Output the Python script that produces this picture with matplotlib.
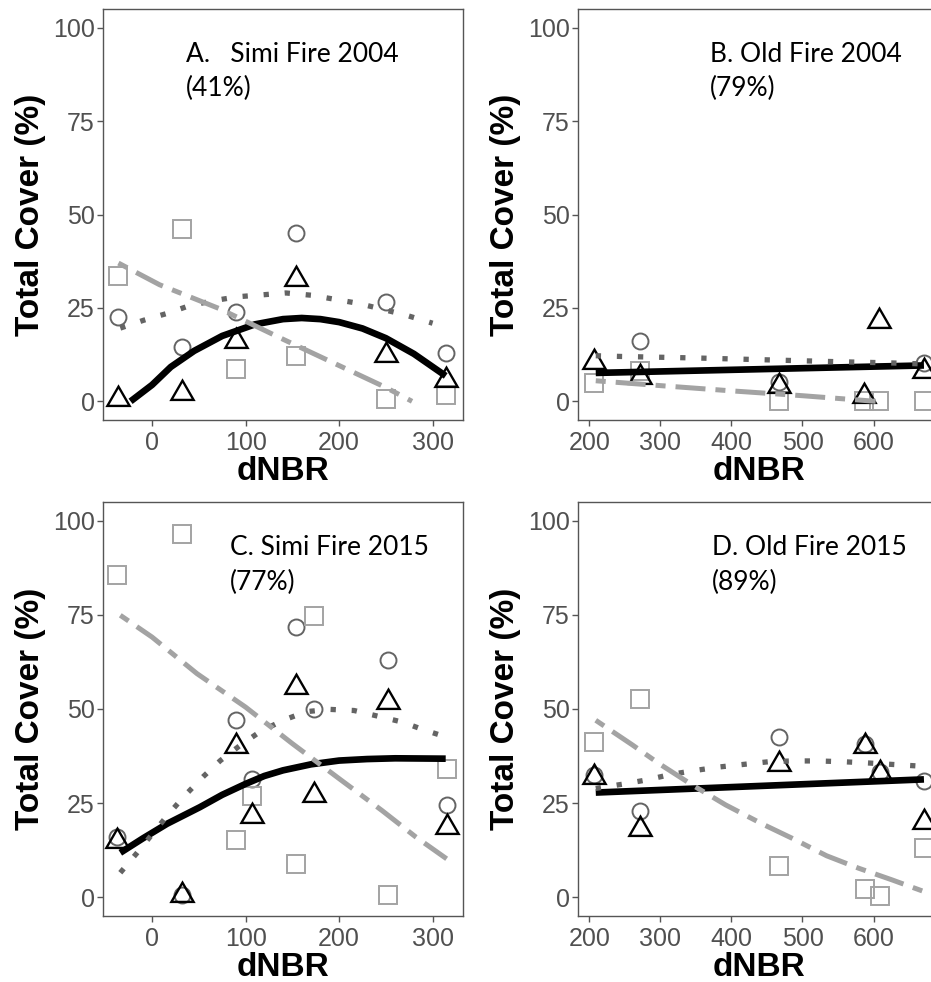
import matplotlib
matplotlib.use("Agg")
import matplotlib.pyplot as plt
import numpy as np

# --- data -----------------------------------------------------------------
# Simi fire plots (panels A, C) and Old fire plots (panels B, D)
simi_x_a = [-36, 32, 90, 154, 250, 314]
a_circ = [22.7, 14.5, 23.8, 45.1, 26.7, 12.9]
a_sq = [33.6, 46.0, 8.6, 12.0, 0.7, 1.6]
a_tri = [0.6, 2.1, 16.1, 32.7, 12.3, 5.6]
a_solid_x = [-23, 0, 20, 45, 75, 110, 140, 160, 180, 200, 225, 250, 280, 314]
a_solid_y = [0.0, 4.4, 9.2, 13.5, 17.5, 20.6, 22.0, 22.3, 22.0, 21.2, 19.5, 16.9, 12.7, 6.8]
a_dot_x = [-34, -9, 17, 40, 67, 92, 118, 143, 170, 221, 271, 300]
a_dot_y = [19.6, 21.7, 23.6, 25.6, 27.0, 28.0, 28.5, 29.0, 28.4, 26.2, 23.1, 20.9]
a_dash_x = [-36, 8, 72, 141, 250, 278]
a_dash_y = [37.0, 31.2, 24.8, 16.5, 3.7, 0.0]

old_x_b = [207, 271, 467, 587, 608, 671]
b_circ = [np.nan, 16.2, 5.3, np.nan, np.nan, 10.3]
b_sq = [4.9, 8.0, 0.0, 0.0, 0.0, 0.0]
b_tri = [10.4, 6.4, 4.1, 1.4, 21.5, 8.0]
b_solid_x = [209, 671]
b_solid_y = [7.6, 9.6]
b_dot_x = [209, 246, 350, 450, 550, 621, 671]
b_dot_y = [12.2, 12.0, 11.6, 11.1, 10.6, 10.3, 10.0]
b_dash_x = [209, 300, 400, 500, 603]
b_dash_y = [5.5, 4.2, 2.8, 1.5, 0.0]

simi_x_c = [-37, 32, 90, 107, 154, 173, 252, 315]
c_circ = [15.9, 0.7, 47.0, 31.5, 71.8, 49.9, 62.9, 24.4]
c_sq = [85.5, 96.4, 15.1, 27.0, 8.9, 74.6, 0.6, 34.1]
c_tri = [14.8, 0.5, 40.2, 21.5, 55.9, 27.1, 51.9, 18.7]
c_solid_x = [-34, -10, 16, 51, 75, 100, 120, 140, 170, 200, 230, 260, 314]
c_solid_y = [11.8, 15.6, 19.5, 23.9, 27.2, 30.1, 32.2, 33.7, 35.3, 36.3, 36.7, 36.9, 36.8]
c_dot_x = [-34, -16, 18, 35, 55, 73, 94, 115, 140, 165, 190, 216, 243, 268, 290, 314]
c_dot_y = [6.5, 11.8, 22.2, 27.0, 32.1, 36.3, 40.3, 43.9, 47.0, 49.3, 49.9, 49.6, 48.0, 46.5, 44.5, 42.6]
c_dash_x = [-34, 0, 48, 100, 150, 200, 246, 282, 315]
c_dash_y = [74.9, 69.1, 59.4, 50.5, 40.8, 31.5, 23.0, 16.0, 10.2]

old_x_d = [207, 271, 467, 588, 609, 671]
d_circ = [32.5, 23.0, 42.6, 40.8, 33.3, 30.9]
d_sq = [41.1, 52.7, 8.4, 2.2, 0.2, 13.2]
d_tri = [31.9, 18.1, 35.4, 40.2, 33.1, 19.9]
d_solid_x = [209, 671]
d_solid_y = [27.8, 31.3]
d_dot_x = [209, 246, 279, 317, 350, 383, 418, 453, 486, 521, 556, 589, 624, 659, 671]
d_dot_y = [28.9, 30.0, 31.1, 32.7, 33.7, 34.6, 35.3, 36.0, 36.2, 36.2, 36.0, 35.7, 35.3, 34.9, 34.7]
d_dash_x = [209, 261, 298, 345, 392, 444, 486, 534, 579, 626, 671]
d_dash_y = [47.0, 40.4, 35.5, 29.8, 24.5, 19.4, 15.6, 11.0, 7.7, 4.6, 1.5]

titles = ["A.   Simi Fire 2004", "B. Old Fire 2004", "C. Simi Fire 2015", "D. Old Fire 2015"]
pcts = ["(41%)", "(79%)", "(77%)", "(89%)"]

# --- styling ----------------------------------------------------------------
plt.rcParams['font.family'] = ['Liberation Sans', 'DejaVu Sans']
CIRC_C = '#646464'
SQ_C = '#a3a3a3'
AX_C = '#555555'
TICK_C = '#505050'

W, H = 931, 982
fig = plt.figure(figsize=(W / 100, H / 100), dpi=100)


def px_axes(left, top, right, bottom):
    return fig.add_axes([left / W, 1 - bottom / H, (right - left) / W, (bottom - top) / H])


panels = [
    dict(ax=px_axes(103, 9, 463, 420), x=simi_x_a, circ=a_circ, sq=a_sq, tri=a_tri,
         solid=(a_solid_x, a_solid_y), dot=(a_dot_x, a_dot_y), dash=(a_dash_x, a_dash_y),
         xlim=(-52.5, 332.5), xticks=[0, 100, 200, 300], tx=36),
    dict(ax=px_axes(578, 9, 941, 420), x=old_x_b, circ=b_circ, sq=b_sq, tri=b_tri,
         solid=(b_solid_x, b_solid_y), dot=(b_dot_x, b_dot_y), dash=(b_dash_x, b_dash_y),
         xlim=(184, 695), xticks=[200, 300, 400, 500, 600], tx=370),
    dict(ax=px_axes(103, 502, 463, 916), x=simi_x_c, circ=c_circ, sq=c_sq, tri=c_tri,
         solid=(c_solid_x, c_solid_y), dot=(c_dot_x, c_dot_y), dash=(c_dash_x, c_dash_y),
         xlim=(-52.5, 332.5), xticks=[0, 100, 200, 300], tx=83),
    dict(ax=px_axes(578, 502, 941, 916), x=old_x_d, circ=d_circ, sq=d_sq, tri=d_tri,
         solid=(d_solid_x, d_solid_y), dot=(d_dot_x, d_dot_y), dash=(d_dash_x, d_dash_y),
         xlim=(184, 695), xticks=[200, 300, 400, 500, 600], tx=373),
]

for i, p in enumerate(panels):
    ax = p['ax']
    # points
    ax.plot(p['x'], p['circ'], linestyle='none', marker='o', ms=11.5, mfc='none',
            mec=CIRC_C, mew=1.4, zorder=2)
    ax.plot(p['x'], p['sq'], linestyle='none', marker='s', ms=12.5, mfc='none',
            mec=SQ_C, mew=1.4, zorder=2)
    ax.plot(p['x'], p['tri'], linestyle='none', marker=(3, 0, 0), ms=18.5, mfc='none',
            mec='black', mew=1.7, zorder=3)
    # fitted lines
    ax.plot(*p['solid'], color='black', lw=4.8, solid_capstyle='butt',
            solid_joinstyle='round', zorder=4)
    ax.plot(*p['dot'], color=CIRC_C, lw=3.8, linestyle=(0, (1, 3)),
            dash_capstyle='butt', zorder=5)
    ax.plot(*p['dash'], color=SQ_C, lw=3.6, linestyle=(0, (2, 2, 6, 2)),
            dash_capstyle='butt', zorder=5)

    ax.set_xlim(*p['xlim'])
    ax.set_ylim(-5, 105)
    ax.set_xticks(p['xticks'])
    ax.set_yticks([0, 25, 50, 75, 100])
    for s in ax.spines.values():
        s.set_color(AX_C)
        s.set_linewidth(1.0)
    ax.tick_params(colors=AX_C, labelcolor=TICK_C, labelsize=18, length=4, width=1)
    ax.tick_params(axis='x', pad=4)
    ax.tick_params(axis='y', pad=2)
    ax.set_xlabel('dNBR', fontsize=24, fontweight='bold', labelpad=1)
    ax.set_ylabel('Total Cover (%)', fontsize=24, fontweight='bold', labelpad=5)

    ax.text(p['tx'], 92.8, titles[i], fontsize=19, family=['Lato', 'DejaVu Sans'],
            va='center', ha='left')
    ax.text(p['tx'], 83.6, pcts[i], fontsize=19, family=['Lato', 'DejaVu Sans'],
            va='center', ha='left')

fig.savefig('out.png', dpi=100)
